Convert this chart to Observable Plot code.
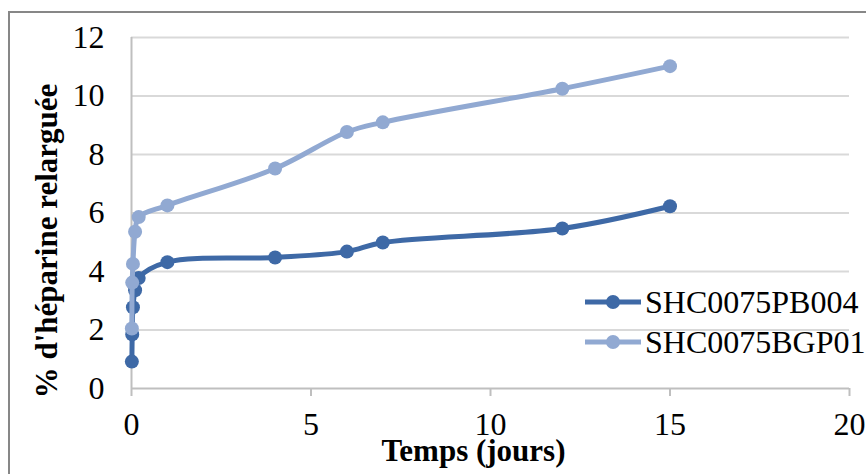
<!DOCTYPE html>
<html><head><meta charset="utf-8">
<script src="https://cdn.jsdelivr.net/npm/d3@7"></script>
<script src="https://cdn.jsdelivr.net/npm/@observablehq/plot@0.6"></script>
<style>
html,body{margin:0;padding:0;overflow:hidden;background:#fff;width:866px;height:474px}
#wrap{position:relative;width:866px;height:474px;overflow:hidden}
#border{position:absolute;left:8px;top:11px;width:900px;height:520px;border:2px solid #878787;}
#chart{position:absolute;left:0;top:0}
#legend{position:absolute;left:0;top:0}
</style></head><body>
<div id="wrap"><div id="border"></div><div id="chart"></div><svg id="legend" width="866" height="474"></svg></div>
<script>
const seriesNames = ["SHC0075PB004", "SHC0075BGP01"];
const seriesColors = ["#3E69A6", "#91A9D2"];
const timeDays = [0.01, 0.02, 0.04, 0.1, 0.2, 1, 4, 6, 7, 12, 15];
const releasePB004 = [0.92, 1.85, 2.78, 3.36, 3.78, 4.32, 4.48, 4.68, 4.99, 5.47, 6.23];
const releaseBGP01 = [2.05, 3.62, 4.26, 5.36, 5.86, 6.26, 7.52, 8.77, 9.10, 10.25, 11.02];
const xTicks = [0, 5, 10, 15, 20];
const yTicks = [0, 2, 4, 6, 8, 10, 12];
const xTitle = "Temps (jours)";
const yTitle = "% d'héparine relarguée";

const seriesValues = [releasePB004, releaseBGP01];
const data = seriesNames.flatMap((s, i) => timeDays.map((t, j) => ({s, t, v: seriesValues[i][j]})));

const font = "'Liberation Serif', 'Times New Roman', serif";
const marks = [
  Plot.gridY(yTicks.filter(d => d > 0), {stroke: "#D9D9D9", strokeOpacity: 1, strokeWidth: 2}),
  Plot.ruleY([0], {stroke: "#BFBFBF", strokeWidth: 2}),
  Plot.ruleX([0], {stroke: "#BFBFBF", strokeWidth: 2}),
  Plot.axisX({ticks: xTicks, tickSize: 8, tickPadding: 16, stroke: "#BFBFBF", strokeWidth: 2, fill: "black", fontSize: 32, label: null, tickFormat: d => String(d)}),
  Plot.axisY({ticks: yTicks, tickSize: 0, tickPadding: 27, fill: "black", fontSize: 32, label: null, tickFormat: d => String(d)}),
  Plot.text([xTitle], {frameAnchor: "bottom", textAnchor: "middle", lineAnchor: "middle", dx: -17, dy: 63, fontSize: 31, fontWeight: "bold", fill: "black"}),
  Plot.text([yTitle], {frameAnchor: "left", textAnchor: "middle", lineAnchor: "middle", rotate: -90, dx: -84, dy: 28, fontSize: 31, fontWeight: "bold", fill: "black"})
];
seriesNames.forEach((s, i) => {
  const rows = data.filter(d => d.s === s);
  marks.push(Plot.line(rows, {x: "t", y: "v", stroke: seriesColors[i], strokeWidth: 5, curve: "catmull-rom"}));
  marks.push(Plot.dot(rows, {x: "t", y: "v", r: 7, fill: seriesColors[i], stroke: "none"}));
});

const chart = Plot.plot({
  width: 866, height: 474,
  marginLeft: 131, marginRight: 17, marginTop: 37, marginBottom: 86,
  x: {domain: [0, 20]},
  y: {domain: [0, 12]},
  style: {fontFamily: font, fontSize: "32px", color: "black", background: "transparent", overflow: "visible"},
  marks
});
document.getElementById("chart").appendChild(chart);

// legend
const lg = d3.select("#legend");
seriesNames.forEach((s, i) => {
  const y = 302 + i * 40;
  const g = lg.append("g");
  g.append("line").attr("x1", 585).attr("x2", 641).attr("y1", y).attr("y2", y)
    .attr("stroke", seriesColors[i]).attr("stroke-width", 5);
  g.append("circle").attr("cx", 613).attr("cy", y).attr("r", 7).attr("fill", seriesColors[i]);
  g.append("text").attr("x", 645).attr("y", y).attr("dy", "0.35em")
    .attr("font-family", font).attr("font-size", 32).attr("fill", "black").text(s);
});
</script>
</body></html>
